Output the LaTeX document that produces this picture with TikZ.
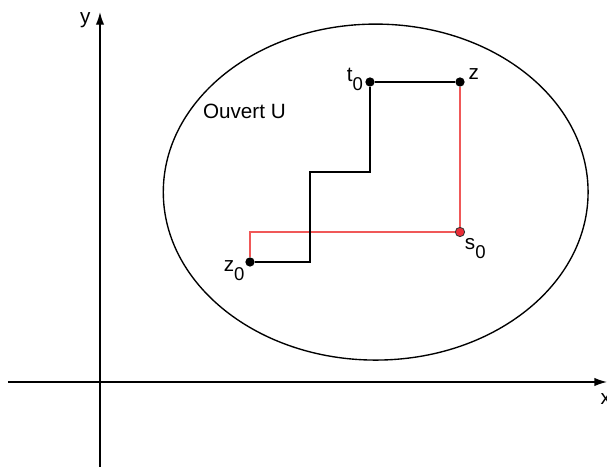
\documentclass[tikz,border=0pt]{standalone}
\usepackage{fontspec}
\setmainfont{Liberation Sans}
\usetikzlibrary{arrows.meta}
\definecolor{chemin}{RGB}{240,88,88}
\definecolor{pointrouge}{RGB}{235,45,55}
\newcommand{\indice}[1]{\raisebox{-0.8ex}{\fontsize{8.8pt}{10pt}\selectfont #1}}
\tikzset{
  axe/.style={line width=0.65pt,-{Latex[length=6pt,width=4pt]}},
  trait/.style={line width=0.65pt},
  pt/.style={circle,fill=black,inner sep=0pt,minimum size=4.4pt},
  lbl/.style={inner sep=0pt}
}
\begin{document}
\begin{tikzpicture}[x=0.5cm,y=0.5cm,font=\fontsize{9.8pt}{11pt}\selectfont]
  \useasboundingbox (-3.333,-2.9) rectangle (16.9,12.733);
  % axes
  \coordinate (xmin) at (-3.07,0);
  \coordinate (xmax) at (16.9,0);
  \coordinate (ymin) at (0,-2.83);
  \coordinate (ymax) at (0,12.33);
  \draw[axe] (xmin) -- (xmax);
  \draw[axe] (ymin) -- (ymax);
  \node[lbl,anchor=base west] (labx) at (16.67,-0.74) {x};
  \node[lbl,anchor=base east] (laby) at (-0.3,11.95) {y};
  % ouvert
  \draw[trait] (9.19,6.33) ellipse (7.08 and 5.6);
  \node[lbl,anchor=base west] (labU) at (3.42,8.79) {Ouvert U};
  % coins des chemins
  \coordinate (k1) at (7,4);
  \coordinate (k2) at (7,7);
  \coordinate (k3) at (9,7);
  \coordinate (k4) at (5,5);
  % points
  \node[pt] (z0) at (5,4) {};
  \node[pt] (t0) at (9,10) {};
  \node[pt] (z) at (12,10) {};
  \node[pt,fill=pointrouge,draw=black!80,line width=0.4pt] (s0) at (12,5) {};
  % chemins
  \draw[trait,chemin] (z0) -- (k4) -- (s0) -- (z);
  \draw[trait] (z0) -- (k1) -- (k2) -- (k3) -- (t0) -- (z);
  \node[lbl,anchor=base east] (labz0) at (4.83,3.68) {z\indice{0}};
  \node[lbl,anchor=base east] (labt0) at (8.78,10.0) {t\indice{0}};
  \node[lbl,anchor=base west] (labz) at (12.27,10.07) {z};
  \node[lbl,anchor=base west] (labs0) at (12.15,4.4) {s\indice{0}};
\end{tikzpicture}
\end{document}
